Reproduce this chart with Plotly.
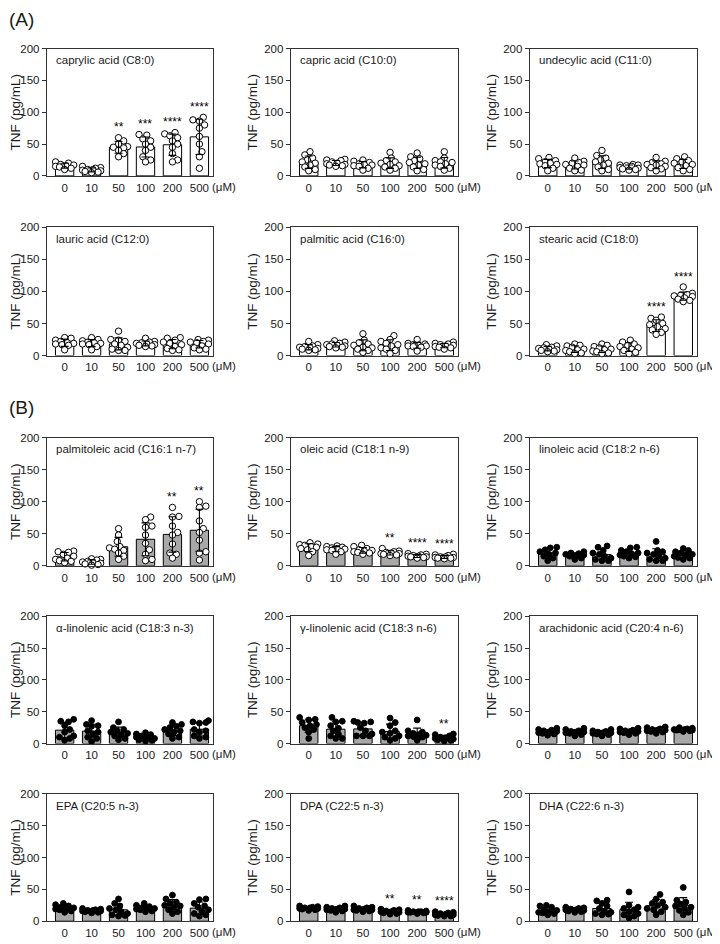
import plotly.graph_objects as go
import numpy as np

doses = ["0", "10", "50", "100", "200", "500"]

# ---- data: TNF (pg/mL) individual values per dose group ----
caprylic = [[22, 20, 18, 17, 16, 15, 14, 12, 10],
            [15, 13, 12, 10, 10, 9, 8, 7, 6, 5],
            [60, 55, 50, 46, 45, 44, 40, 35, 30],
            [65, 64, 58, 55, 50, 45, 40, 30, 25, 22],
            [68, 66, 63, 60, 55, 50, 45, 35, 25, 22],
            [92, 88, 86, 80, 75, 62, 50, 38, 30, 12]]
capric = [[38, 33, 28, 25, 22, 20, 17, 14, 10, 8],
          [26, 25, 24, 22, 20, 19, 18, 17, 16, 15],
          [25, 23, 21, 19, 18, 17, 16, 15, 12, 9],
          [37, 28, 24, 22, 20, 18, 16, 14, 12, 9],
          [36, 30, 27, 24, 21, 19, 17, 14, 10, 8],
          [38, 28, 24, 22, 21, 19, 17, 15, 12, 9]]
undecylic = [[29, 27, 24, 22, 20, 19, 18, 16, 12, 8],
             [28, 23, 21, 20, 18, 17, 15, 12, 9, 8],
             [40, 32, 28, 25, 22, 20, 17, 14, 10, 8],
             [18, 17, 17, 16, 15, 13, 12, 11, 10, 9],
             [29, 23, 21, 19, 18, 17, 15, 13, 11, 8],
             [30, 27, 24, 22, 20, 18, 16, 13, 10, 8]]
lauric = [[28, 27, 24, 22, 20, 19, 18, 17, 16, 9],
          [28, 25, 23, 21, 20, 19, 18, 17, 14, 9],
          [38, 25, 24, 22, 18, 16, 13, 10, 8, 8],
          [27, 22, 21, 20, 19, 18, 17, 16, 15, 14],
          [28, 27, 24, 21, 19, 17, 14, 11, 9, 8],
          [25, 24, 22, 21, 20, 18, 15, 12, 10, 9]]
palmitic = [[22, 17, 15, 14, 13, 12, 11, 10, 9, 8],
            [23, 21, 19, 18, 17, 16, 15, 14, 13, 12],
            [34, 24, 20, 18, 16, 13, 12, 10, 8, 5],
            [31, 25, 22, 19, 17, 15, 12, 10, 8, 3],
            [25, 19, 18, 17, 16, 15, 15, 14, 13, 7],
            [21, 19, 18, 17, 16, 15, 14, 13, 12, 10]]
stearic = [[17, 15, 13, 12, 11, 10, 9, 8, 7, 6],
           [18, 16, 15, 13, 10, 9, 8, 6, 4, 3],
           [18, 16, 14, 12, 10, 9, 7, 6, 4, 3],
           [24, 21, 18, 16, 14, 12, 10, 8, 5, 3],
           [60, 58, 55, 50, 48, 45, 42, 40, 36, 33],
           [107, 97, 95, 94, 93, 92, 90, 88, 86, 84]]
palmitoleic = [[23, 22, 21, 18, 15, 12, 10, 8, 7, 5],
               [11, 10, 9, 7, 6, 5, 4, 3, 2, 1],
               [58, 48, 38, 30, 28, 26, 24, 20, 15, 10],
               [76, 72, 62, 60, 48, 35, 25, 18, 10, 8],
               [91, 77, 76, 62, 52, 48, 34, 20, 18, 12],
               [100, 93, 91, 70, 58, 52, 40, 22, 20, 9]]
oleic = [[36, 34, 33, 32, 30, 29, 27, 25, 22, 16],
         [31, 30, 29, 28, 27, 26, 25, 24, 22, 18],
         [32, 30, 27, 25, 24, 23, 22, 21, 20, 18],
         [27, 23, 22, 21, 20, 19, 19, 18, 17, 16],
         [19, 18, 17, 16, 15, 15, 14, 14, 13, 12],
         [18, 17, 16, 14, 14, 13, 13, 12, 12, 11]]
linoleic = [[29, 28, 25, 22, 20, 18, 15, 12, 8],
            [22, 20, 19, 18, 17, 16, 15, 12, 10],
            [31, 29, 24, 20, 18, 15, 12, 10, 8, 8],
            [29, 28, 24, 22, 20, 19, 17, 15, 14, 12],
            [38, 24, 22, 20, 18, 15, 12, 10, 8, 8],
            [27, 24, 22, 20, 18, 17, 15, 13, 12, 10]]
a_linolenic = [[38, 35, 34, 28, 22, 18, 12, 10, 8, 5],
               [36, 30, 28, 27, 20, 18, 15, 10, 8, 3],
               [34, 25, 22, 20, 18, 16, 14, 12, 8, 6],
               [17, 15, 14, 12, 10, 9, 8, 6, 5, 4],
               [33, 30, 27, 25, 22, 20, 18, 15, 10, 8],
               [36, 34, 33, 32, 22, 20, 18, 12, 10, 8]]
g_linolenic = [[41, 38, 37, 33, 30, 28, 25, 22, 18, 8],
               [41, 35, 34, 28, 24, 20, 15, 12, 8, 8],
               [35, 34, 33, 32, 25, 20, 15, 12, 12, 12],
               [40, 33, 28, 20, 18, 16, 12, 10, 8, 5],
               [37, 20, 18, 16, 14, 13, 12, 11, 10, 5],
               [15, 14, 12, 10, 9, 8, 7, 6, 5, 4]]
arachidonic = [[24, 22, 21, 20, 19, 18, 17, 16, 15, 13],
               [24, 22, 20, 19, 18, 18, 17, 16, 14, 12],
               [22, 20, 19, 18, 17, 17, 16, 15, 14, 12],
               [24, 23, 21, 20, 19, 19, 18, 17, 16, 14],
               [26, 25, 23, 22, 21, 21, 20, 19, 18, 16],
               [25, 24, 23, 22, 22, 22, 21, 21, 20, 19]]
epa = [[28, 26, 24, 22, 21, 20, 19, 18, 16, 14],
       [20, 19, 18, 17, 17, 16, 16, 15, 14, 13],
       [35, 28, 24, 20, 18, 15, 12, 10, 9, 8],
       [28, 25, 23, 21, 20, 20, 19, 18, 16, 15],
       [41, 35, 30, 28, 25, 24, 22, 18, 15, 12],
       [35, 34, 28, 24, 22, 18, 15, 12, 10, 8]]
dpa = [[24, 23, 22, 21, 21, 20, 20, 19, 18, 17],
       [24, 22, 21, 20, 19, 19, 18, 17, 16, 14],
       [24, 22, 21, 20, 19, 18, 18, 17, 16, 15],
       [19, 18, 17, 16, 15, 15, 14, 13, 12, 11],
       [17, 16, 15, 15, 15, 14, 14, 14, 13, 12],
       [15, 14, 13, 12, 11, 10, 10, 9, 8, 8]]
dha = [[25, 24, 22, 18, 17, 15, 14, 13, 12, 10],
       [22, 21, 20, 19, 18, 18, 17, 16, 15, 14],
       [33, 32, 28, 24, 20, 16, 14, 12, 11, 10],
       [46, 25, 22, 20, 18, 15, 12, 10, 8, 5],
       [42, 35, 30, 28, 25, 22, 20, 18, 15, 10],
       [53, 33, 30, 27, 24, 22, 20, 17, 14, 10]]

titles = ["caprylic acid (C8:0)", "capric acid (C10:0)", "undecylic acid (C11:0)",
          "lauric acid (C12:0)", "palmitic acid (C16:0)", "stearic acid (C18:0)",
          "palmitoleic acid (C16:1 n-7)", "oleic acid (C18:1 n-9)", "linoleic acid (C18:2 n-6)",
          "α-linolenic acid (C18:3 n-3)", "γ-linolenic acid (C18:3 n-6)", "arachidonic acid (C20:4 n-6)",
          "EPA (C20:5 n-3)", "DPA (C22:5 n-3)", "DHA (C22:6 n-3)"]
panels = [caprylic, capric, undecylic, lauric, palmitic, stearic,
          palmitoleic, oleic, linoleic, a_linolenic, g_linolenic, arachidonic,
          epa, dpa, dha]
stars = {0: ["", "", "**", "***", "****", "****"],
         5: ["", "", "", "", "****", "****"],
         6: ["", "", "", "", "**", "**"],
         7: ["", "", "", "**", "****", "****"],
         10: ["", "", "", "", "", "**"],
         13: ["", "", "", "**", "**", "****"]}

# ---- layout geometry (screen pixels) ----
OFF = 8            # default page body margin
W, H = 720 - OFF, 944 - OFF
col_l = [44, 289, 529]
col_r = [211, 457, 697]
row_t = [43, 224, 437, 618, 798]
row_b = [172, 354, 567, 747, 927]
XR = [-0.66, 5.51]
FONT = "Liberation Sans, Arial, sans-serif"
AX = "#333333"
TXT = "#1a1a1a"


def fx(px):
    return (px - OFF) / W


def fy(py):
    return 1 - (py - OFF) / H


def swarm(vals, ppx, ppy, diam=5.4, max_off_px=9.5):
    n = len(vals)
    order = sorted(range(n), key=lambda i: vals[i])
    placed = []
    offs = [0.0] * n
    steps = [0.0]
    s = 1.3
    while s <= max_off_px:
        steps += [s, -s]
        s += 1.3
    for i in order:
        y = vals[i] * ppy
        best, best_ov = 0.0, 1e9
        for cand in steps:
            ov = 0.0
            for (px, py) in placed:
                d = np.hypot(px - cand, py - y)
                if d < diam:
                    ov += diam - d
            if ov == 0:
                best = cand
                break
            if ov < best_ov:
                best_ov, best = ov, cand
        placed.append((best, y))
        offs[i] = best / ppx
    return offs


fig = go.Figure()
annotations = []
layout = {}

for k, data in enumerate(panels):
    if k < 6:
        r, c = k // 3, k % 3
    else:
        r, c = 2 + (k - 6) // 3, (k - 6) % 3
    L, R, T, B = col_l[c], col_r[c], row_t[r], row_b[r]
    xa = "x" if k == 0 else f"x{k+1}"
    ya = "y" if k == 0 else f"y{k+1}"
    ppx = (R - L) / (XR[1] - XR[0])
    ppy = (B - T) / 200.0
    groupA = k < 6
    open_dots = k < 8
    means = [float(np.mean(g)) for g in data]
    sds = [float(np.std(g, ddof=1)) for g in data]

    fig.add_trace(go.Bar(x=list(range(6)), y=means, width=0.68,
                         marker=dict(color="white" if groupA else "#a8a8a8",
                                     line=dict(color="black", width=1)),
                         xaxis=xa, yaxis=ya, showlegend=False, hoverinfo="skip"))
    px_all, py_all = [], []
    for gi, g in enumerate(data):
        offs = swarm(g, ppx, ppy)
        px_all += [gi + o for o in offs]
        py_all += list(g)
    fig.add_trace(go.Scatter(x=px_all, y=py_all, mode="markers",
                             marker=dict(size=6.4 if open_dots else 5.8,
                                         color="white" if open_dots else "black",
                                         line=dict(color="black", width=1)),
                             xaxis=xa, yaxis=ya, showlegend=False, cliponaxis=False,
                             hoverinfo="skip"))
    fig.add_trace(go.Scatter(x=list(range(6)), y=means, mode="markers",
                             marker=dict(size=1, color="rgba(0,0,0,0)"),
                             error_y=dict(type="data", array=sds, visible=True,
                                          color="black", thickness=1.1, width=4),
                             xaxis=xa, yaxis=ya, showlegend=False, cliponaxis=False,
                             hoverinfo="skip"))

    xkey = "xaxis" if k == 0 else f"xaxis{k+1}"
    ykey = "yaxis" if k == 0 else f"yaxis{k+1}"
    layout[xkey] = dict(domain=[fx(L), fx(R)], anchor=ya, range=XR,
                        tickmode="array", tickvals=list(range(6)), ticktext=doses,
                        showline=True, mirror=True, linecolor=AX, linewidth=1.2,
                        ticks="outside", ticklen=1, tickcolor="rgba(0,0,0,0)",
                        showgrid=False, zeroline=False,
                        tickfont=dict(size=11.5, color=TXT, family=FONT))
    layout[ykey] = dict(domain=[fy(B), fy(T)], anchor=xa, range=[0, 200],
                        tickmode="array", tickvals=[0, 50, 100, 150, 200],
                        showline=True, mirror=True, linecolor=AX, linewidth=1.2,
                        ticks="outside", ticklen=4, tickcolor=AX, tickwidth=1,
                        showgrid=False, zeroline=False,
                        tickfont=dict(size=11.5, color=TXT, family=FONT),
                        title=dict(text="TNF (pg/mL)", standoff=3,
                                   font=dict(size=13.5, color=TXT, family=FONT)))

    # panel title
    annotations.append(dict(x=fx(L + 7), y=fy(T + 12), xref="paper", yref="paper",
                            text=titles[k], showarrow=False, xanchor="left", yanchor="middle",
                            font=dict(size=11.5, color=TXT, family=FONT)))
    # unit label
    annotations.append(dict(x=fx(R - 3), y=fy(B + 11), xref="paper", yref="paper",
                            text="(μM)", showarrow=False, xanchor="left", yanchor="middle",
                            font=dict(size=11.5, color=TXT, family=FONT)))
    # significance stars
    if k in stars:
        for gi, s in enumerate(stars[k]):
            if s:
                top = max(max(data[gi]), means[gi] + sds[gi])
                annotations.append(dict(x=gi, y=top + 2, xref=xa, yref=ya, text=s,
                                        showarrow=False, xanchor="center", yanchor="bottom",
                                        font=dict(size=12, color="black", family=FONT)))

annotations.append(dict(x=fx(4), y=fy(14), xref="paper", yref="paper", text="(A)",
                        showarrow=False, xanchor="left", yanchor="middle",
                        font=dict(size=19, color=TXT, family=FONT)))
annotations.append(dict(x=fx(4), y=fy(407), xref="paper", yref="paper", text="(B)",
                        showarrow=False, xanchor="left", yanchor="middle",
                        font=dict(size=19, color=TXT, family=FONT)))

fig.update_layout(width=W, height=H, margin=dict(l=0, r=0, t=0, b=0),
                  paper_bgcolor="white", plot_bgcolor="white",
                  annotations=annotations, bargap=0.3,
                  font=dict(family=FONT), **layout)

fig.write_html("out.html")
